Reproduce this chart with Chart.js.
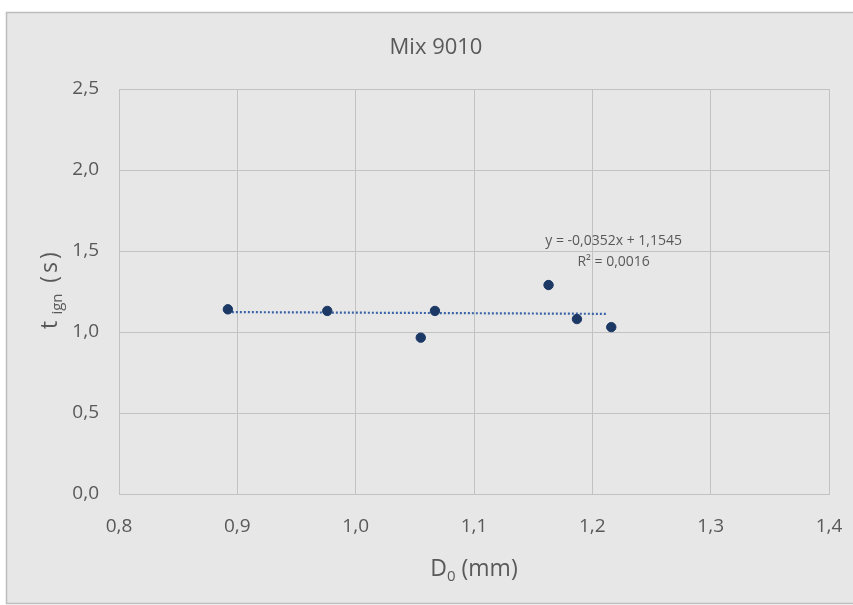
<!DOCTYPE html>
<html><head><meta charset="utf-8">
<script src="https://cdn.jsdelivr.net/npm/chart.js@4/dist/chart.umd.min.js"></script>
<style>html,body{margin:0;padding:0;background:#fff;}#wrap{width:853px;height:605px;position:relative;}</style>
</head><body><div id="wrap"><canvas id="c" width="853" height="605"></canvas></div>
<script>
const chartTitle = "Mix 9010";
const diameters = [0.892, 0.976, 1.055, 1.067, 1.163, 1.187, 1.216];
const ignitionTimes = [1.14, 1.13, 0.965, 1.13, 1.29, 1.08, 1.03];
const trendX = [0.892, 1.213];
const trendY = [1.123, 1.112];
const equationText = "y = -0,0352x + 1,1545";
const r2Text = "R² = 0,0016";
const xTicks = [0.8, 0.9, 1.0, 1.1, 1.2, 1.3, 1.4];
const yTicks = [0, 0.5, 1.0, 1.5, 2.0, 2.5];

const FONT = "'Open Sans', sans-serif";
const TXT = "#595959";
const fmt = v => v.toFixed(1).replace('.', ',');

const decor = {
  id: 'decor',
  beforeDraw(chart) {
    const ctx = chart.ctx;
    ctx.save();
    ctx.fillStyle = '#ffffff';
    ctx.fillRect(0, 0, chart.width, chart.height);
    ctx.fillStyle = '#e7e7e7';
    ctx.fillRect(6, 12, 860, 592);
    ctx.strokeStyle = '#bdbdbd';
    ctx.lineWidth = 1.5;
    ctx.strokeRect(6.5, 12.5, 860, 591);
    ctx.restore();
  },
  afterDraw(chart) {
    const ctx = chart.ctx, ca = chart.chartArea;
    const xs = chart.scales.x, ys = chart.scales.y;
    ctx.save();
    ctx.fillStyle = TXT;
    ctx.textAlign = 'center';
    ctx.textBaseline = 'middle';
    ctx.font = "22px " + FONT;
    ctx.fillText(chartTitle, 436, 48);
    // x title D0 (mm)
    const cx = (ca.left + ca.right) / 2;
    const mainD = "D", sub0 = "0", rest = " (mm)";
    ctx.font = "23px " + FONT; const wD = ctx.measureText(mainD).width; const wR = ctx.measureText(rest).width;
    ctx.font = "15px " + FONT; const w0 = ctx.measureText(sub0).width;
    let sx = cx - (wD + w0 + wR) / 2;
    ctx.textAlign = 'left';
    ctx.font = "23px " + FONT; ctx.fillText(mainD, sx, 569);
    ctx.font = "15px " + FONT; ctx.fillText(sub0, sx + wD, 577);
    ctx.font = "23px " + FONT; ctx.fillText(rest, sx + wD + w0, 569);
    // y title t_ign (s)
    ctx.translate(50, 0);
    ctx.rotate(-Math.PI / 2);
    ctx.textAlign = 'center';
    ctx.font = "23px " + FONT; ctx.fillText("t", -325, 0);
    ctx.font = "15px " + FONT; ctx.fillText("ign", -304, 8);
    ctx.font = "23px " + FONT;
    ctx.letterSpacing = "3px";
    ctx.fillText("(s)", -266, 0);
    ctx.restore();
    // equation
    ctx.save();
    ctx.fillStyle = TXT;
    ctx.textAlign = 'center';
    ctx.textBaseline = 'middle';
    ctx.font = "14px " + FONT;
    const ex = xs.getPixelForValue(1.218);
    ctx.fillText(equationText, ex, ys.getPixelForValue(1.56));
    ctx.fillText(r2Text, ex, ys.getPixelForValue(1.43));
    ctx.restore();
  }
};

new Chart(document.getElementById('c'), {
  type: 'scatter',
  data: {
    datasets: [
      {
        label: 'trend',
        type: 'line',
        data: trendX.map((x, i) => ({x, y: trendY[i]})),
        borderColor: '#3a64a8',
        borderWidth: 2.2,
        borderDash: [2, 2],
        pointRadius: 0,
        fill: false,
        order: 2
      },
      {
        label: 'tign',
        data: diameters.map((x, i) => ({x, y: ignitionTimes[i]})),
        backgroundColor: '#1c3865',
        borderColor: '#1c3865',
        pointRadius: 4.7,
        order: 1
      }
    ]
  },
  options: {
    responsive: false,
    animation: false,
    layout: { padding: { left: 0, top: 89, right: 24, bottom: 0 } },
    plugins: { legend: { display: false }, tooltip: { enabled: false }, title: { display: false } },
    scales: {
      x: {
        type: 'linear', min: 0.8, max: 1.4,
        afterBuildTicks: s => { s.ticks = xTicks.map(v => ({value: v})); },
        afterFit: s => { s.height = 111; s.paddingLeft = 0; s.paddingRight = 0; },
        grid: { color: '#c2c2c2', lineWidth: 1, drawTicks: false },
        border: { color: '#c2c2c2', width: 1 },
        ticks: { color: TXT, font: { family: FONT, size: 19 }, padding: 21, callback: v => fmt(v), maxRotation: 0 }
      },
      y: {
        type: 'linear', min: 0, max: 2.5,
        afterBuildTicks: s => { s.ticks = yTicks.map(v => ({value: v})); },
        afterFit: s => { s.width = 119; s.paddingTop = 0; s.paddingBottom = 0; },
        grid: { color: '#c2c2c2', lineWidth: 1, drawTicks: false },
        border: { color: '#c2c2c2', width: 1 },
        ticks: { color: TXT, font: { family: FONT, size: 19 }, padding: 20, callback: v => fmt(v) }
      }
    }
  },
  plugins: [decor]
});
</script>
</body></html>
